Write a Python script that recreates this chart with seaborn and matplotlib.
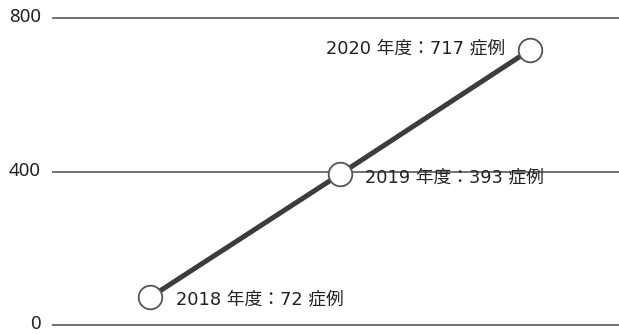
import matplotlib
matplotlib.use("Agg")
import matplotlib.pyplot as plt
import matplotlib.transforms as mtransforms
import seaborn as sns
import pandas as pd

years = ["2018", "2019", "2020"]
cases = [72, 393, 717]
labels = ["2018 年度：72 症例", "2019 年度：393 症例", "2020 年度：717 症例"]
yticks = [0, 400, 800]

sns.set_theme(style="white")
plt.rcParams["font.family"] = ["Noto Sans CJK JP", "DejaVu Sans"]

df = pd.DataFrame({"year": years, "cases": cases})

fig = plt.figure(figsize=(6.19, 3.34), dpi=100)
ax = fig.add_axes([52 / 619, 7.5 / 334, 567 / 619, 310 / 334])

sns.lineplot(data=df, x="year", y="cases", ax=ax, color="#3c3c3c", linewidth=3.6,
             marker="o", markersize=17, markerfacecolor="white",
             markeredgecolor="#555555", markeredgewidth=1.3, zorder=3)

ax.set_ylim(-4, 804)
ax.set_xlim(-0.516, 2.468)
ax.set_yticks(yticks)
ax.set_yticklabels([str(v) for v in yticks], fontsize=13.5, color="#222222",
                   family=["Noto Sans", "DejaVu Sans"])
ax.set_xticks([])
ax.set_xlabel("")
ax.set_ylabel("")
ax.yaxis.grid(True, color="#666666", linewidth=1.3)
ax.tick_params(axis="y", length=0, pad=8)
for s in ax.spines.values():
    s.set_visible(False)
shift = mtransforms.ScaledTranslation(0, 1 / 100, fig.dpi_scale_trans)
for lbl in ax.get_yticklabels():
    lbl.set_va("center")
    lbl.set_transform(lbl.get_transform() + shift)

offsets = [(26, -2, "left"), (25, -3, "left"), (-25, 1, "right")]
for i, (lab, (dx, dy, ha)) in enumerate(zip(labels, offsets)):
    ax.annotate(lab, (i, cases[i]), xytext=(dx, dy), textcoords="offset pixels",
                ha=ha, va="center", fontsize=12.8, color="#222222",
                family=["DejaVu Sans", "Noto Sans CJK JP"])

fig.savefig("out.png", dpi=100)
